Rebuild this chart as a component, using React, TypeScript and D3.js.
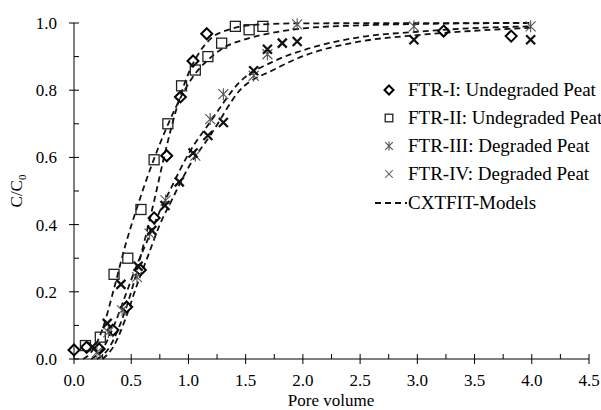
import React from 'react';
import * as d3 from 'd3';

// measured points -------------------------------------------------
const ftr1: [number, number][] = [
  [0, 0.027], [0.11, 0.035], [0.22, 0.03], [0.34, 0.086], [0.46, 0.155], [0.58, 0.265],
  [0.7, 0.42], [0.81, 0.605], [0.93, 0.78], [1.04, 0.887], [1.16, 0.968], [3.23, 0.976], [3.82, 0.961],
];
const ftr2: [number, number][] = [
  [0.1, 0.04], [0.23, 0.065], [0.35, 0.252], [0.47, 0.3], [0.585, 0.445], [0.7, 0.593],
  [0.82, 0.7], [0.94, 0.813], [1.06, 0.86], [1.17, 0.9], [1.29, 0.94], [1.41, 0.99], [1.53, 0.98], [1.65, 0.99],
];
const ftr3: [number, number][] = [
  [0.2, 0.02], [0.3, 0.08], [0.42, 0.145], [0.55, 0.244], [0.66, 0.373], [0.8, 0.472],
  [1.06, 0.605], [1.19, 0.714], [1.305, 0.788], [1.57, 0.843], [1.69, 0.907], [1.95, 0.996], [2.97, 0.99], [3.99, 0.99],
];
const ftr4: [number, number][] = [
  [0.16, 0.036], [0.29, 0.106], [0.41, 0.222], [0.56, 0.276], [0.68, 0.383], [0.795, 0.457],
  [0.92, 0.527], [1.04, 0.613], [1.17, 0.665], [1.305, 0.704], [1.57, 0.858], [1.69, 0.922],
  [1.82, 0.94], [1.95, 0.945], [2.97, 0.95], [3.99, 0.95],
];

// CXTFIT model curves ----------------------------------------------
const model1: [number, number][] = [
  [0.2, 0], [0.3, 0.03], [0.4, 0.1], [0.5, 0.2], [0.6, 0.33], [0.7, 0.47], [0.8, 0.62], [0.9, 0.75],
  [1.0, 0.85], [1.1, 0.915], [1.2, 0.955], [1.35, 0.98], [1.6, 0.995], [2.0, 0.999], [4.0, 1.0],
];
const model2: [number, number][] = [
  [0.08, 0], [0.15, 0.02], [0.25, 0.09], [0.35, 0.21], [0.45, 0.34], [0.55, 0.45], [0.65, 0.55],
  [0.75, 0.64], [0.85, 0.72], [0.95, 0.79], [1.05, 0.845], [1.17, 0.89], [1.3, 0.925], [1.5, 0.952],
  [1.75, 0.972], [2.0, 0.984], [2.5, 0.993], [3.0, 0.997], [4.0, 1.0],
];
const model3: [number, number][] = [
  [0.15, 0], [0.25, 0.03], [0.35, 0.1], [0.45, 0.19], [0.55, 0.28], [0.65, 0.36], [0.75, 0.44],
  [0.85, 0.51], [1.0, 0.61], [1.2, 0.71], [1.45, 0.825], [1.74, 0.885], [2.03, 0.922], [2.5, 0.958],
  [3.0, 0.974], [3.5, 0.985], [4.0, 0.99],
];
const model4: [number, number][] = [
  [0.25, 0], [0.35, 0.04], [0.45, 0.12], [0.55, 0.22], [0.65, 0.31], [0.75, 0.4], [0.85, 0.47],
  [1.0, 0.57], [1.2, 0.67], [1.45, 0.8], [1.74, 0.86], [2.03, 0.905], [2.5, 0.945], [3.0, 0.964],
  [3.5, 0.977], [4.0, 0.986],
];

const xTicks = [0, 0.5, 1, 1.5, 2, 2.5, 3, 3.5, 4, 4.5];
const yTicks = [0, 0.2, 0.4, 0.6, 0.8, 1.0];
const legendLabels = [
  'FTR-I: Undegraded Peat',
  'FTR-II: Undegraded Peat',
  'FTR-III: Degraded Peat',
  'FTR-IV: Degraded Peat',
  'CXTFIT-Models',
];

const font = '"Liberation Serif", "Times New Roman", serif';

function Marker({ kind, x, y, s, legend }: { kind: number; x: number; y: number; s: number; legend?: boolean }) {
  if (kind === 0) {
    return <path d={`M${x},${y - s}L${x + s},${y}L${x},${y + s}L${x - s},${y}Z`} fill="none" stroke="#000" strokeWidth={2} />;
  }
  if (kind === 1) {
    return <rect x={x - s} y={y - s} width={2 * s} height={2 * s} fill="none" stroke="#222" strokeWidth={1.3} />;
  }
  if (kind === 2) {
    return (
      <path d={`M${x - s},${y - s}L${x + s},${y + s}M${x - s},${y + s}L${x + s},${y - s}M${x},${y - s * 1.2}L${x},${y + s * 1.2}`}
        stroke="#555" strokeWidth={1.1} fill="none" />
    );
  }
  return (
    <path d={`M${x - s},${y - s}L${x + s},${y + s}M${x - s},${y + s}L${x + s},${y - s}`}
      stroke={legend ? '#666' : '#111'} strokeWidth={legend ? 1.1 : 2.3} fill="none" />
  );
}

export default function App() {
  const width = 601, height = 410;
  const x = d3.scaleLinear().domain([0, 4.5]).range([74, 589]);
  const y = d3.scaleLinear().domain([0, 1]).range([359, 23]);

  const line = d3.line<[number, number]>()
    .x(d => x(d[0]))
    .y(d => y(d[1]))
    .curve(d3.curveMonotoneX);

  const minorX = d3.range(0, 4.51, 0.25);
  const minorY = d3.range(0, 1.001, 0.1);
  const series = [ftr1, ftr2, ftr3, ftr4];
  const models = [model1, model2, model3, model4];
  const sizes = [5.5, 5, 5, 4.5];
  const legendY = [96, 124, 152, 180, 209];

  return (
    <svg width={width} height={height} style={{ position: 'absolute', left: 0, top: 0 }} fontFamily={font}>
      {/* axes */}
      <line x1={x(0)} x2={x(4.5)} y1={y(0)} y2={y(0)} stroke="#000" />
      <line x1={x(0)} x2={x(0)} y1={y(0)} y2={y(1)} stroke="#000" />
      {minorX.map((t, i) => (
        <line key={'mx' + i} x1={x(t)} x2={x(t)} y1={y(0) - 5} y2={y(0) + (i % 2 === 0 ? 5 : 0)} stroke="#000" />
      ))}
      {minorY.map((t, i) => (
        <line key={'my' + i} x1={x(0) - (i % 2 === 0 ? 5 : 0)} x2={x(0) + 5} y1={y(t)} y2={y(t)} stroke="#000" />
      ))}
      {xTicks.map(t => (
        <text key={'xt' + t} x={x(t)} y={386} fontSize={17} textAnchor="middle">{t.toFixed(1)}</text>
      ))}
      {yTicks.map(t => (
        <text key={'yt' + t} x={57} y={y(t) + 6} fontSize={17} textAnchor="end">{t.toFixed(1)}</text>
      ))}
      <text x={331} y={406} fontSize={17} textAnchor="middle">Pore volume</text>
      <text transform={`translate(22,191) rotate(-90)`} fontSize={17} textAnchor="middle">
        C/C<tspan fontSize={11} dy={4}>0</tspan>
      </text>

      {/* model curves */}
      {models.map((m, i) => (
        <path key={'m' + i} d={line(m) || ''} fill="none" stroke="#111" strokeWidth={1.8} strokeDasharray="6,4" />
      ))}

      {/* data */}
      {series.map((s, k) => s.map((d, i) => (
        <Marker key={k + '-' + i} kind={k} x={x(d[0])} y={y(d[1])} s={sizes[k]} />
      )))}

      {/* legend */}
      {legendLabels.map((l, i) => (
        <g key={'lg' + i}>
          {i < 4 ? (
            <Marker kind={i} x={389} y={legendY[i] - 6} s={i === 0 ? 4.5 : 3.8} legend />
          ) : (
            <line x1={375} x2={407} y1={legendY[i] - 6} y2={legendY[i] - 6} stroke="#111" strokeWidth={1.8} strokeDasharray="6,4" />
          )}
          <text x={408} y={legendY[i]} fontSize={19}>{l}</text>
        </g>
      ))}
    </svg>
  );
}
